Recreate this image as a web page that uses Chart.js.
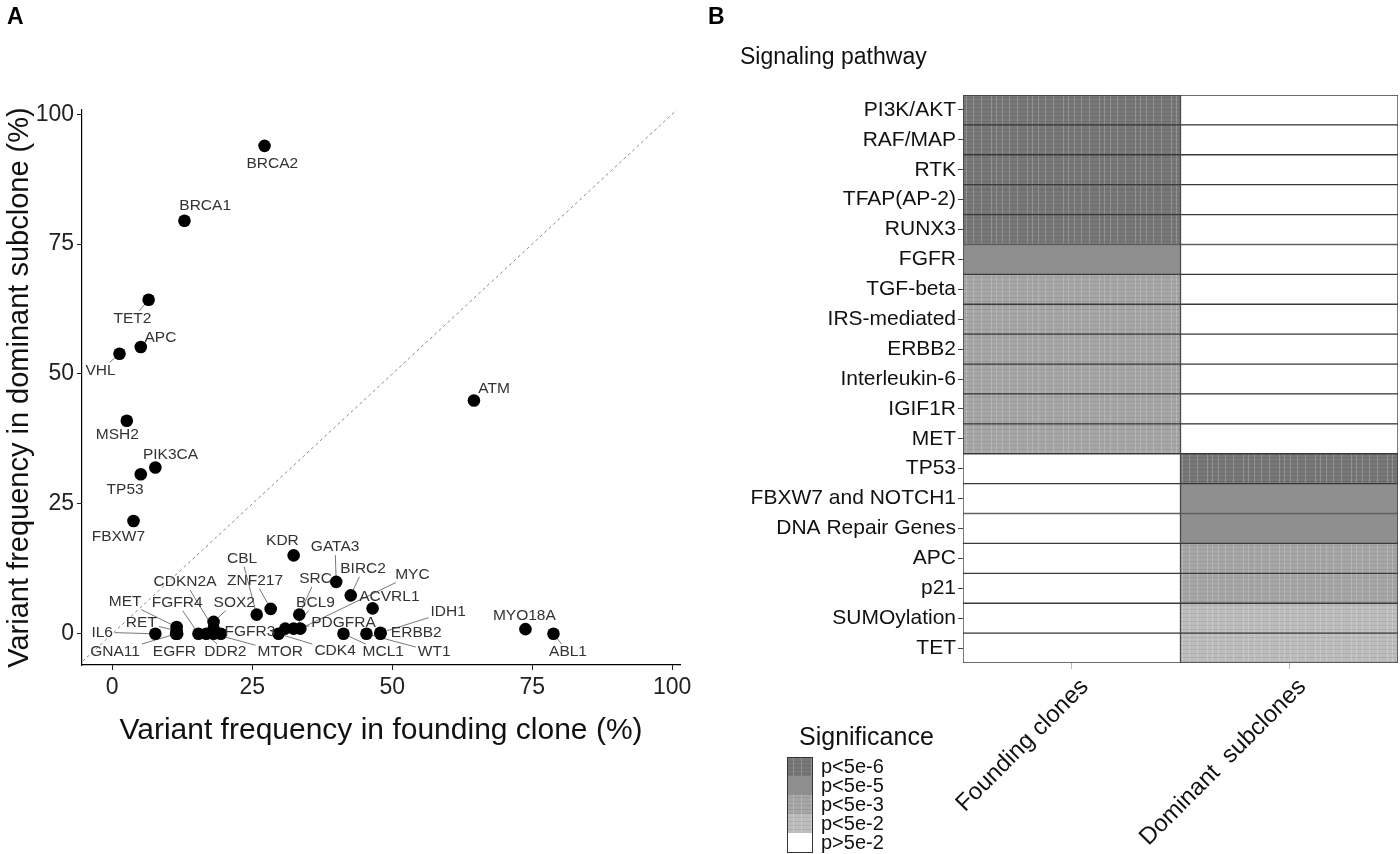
<!DOCTYPE html>
<html>
<head>
<meta charset="utf-8">
<script src="https://cdn.jsdelivr.net/npm/chart.js@4.4.1/dist/chart.umd.min.js"></script>
<style>
  body { margin: 0; background: #fff; width: 1400px; height: 854px; overflow: hidden; position: relative; }
  .panel { position: absolute; top: 0; width: 700px; height: 854px; }
  #panelA { left: 0; }
  #panelB { left: 700px; }
</style>
</head>
<body>
<div class="panel" id="panelA"><canvas id="chartA" width="700" height="854"></canvas></div>
<div class="panel" id="panelB"><canvas id="chartB" width="700" height="854"></canvas></div>
<script>
// --- DATA: panel A (variant frequencies, %) ---
const genes = ['BRCA2', 'BRCA1', 'TET2', 'APC', 'VHL', 'MSH2', 'PIK3CA', 'TP53', 'FBXW7', 'ATM',
  'KDR', 'GATA3', 'CBL', 'ZNF217', 'SRC', 'BIRC2', 'MYC', 'CDKN2A', 'SOX2', 'BCL9',
  'ACVRL1', 'MET', 'FGFR4', 'RET', 'IDH1', 'PDGFRA', 'MYO18A', 'IL6', 'FGFR3', 'ERBB2',
  'GNA11', 'EGFR', 'DDR2', 'MTOR', 'CDK4', 'MCL1', 'WT1', 'ABL1'];
const foundingFreq = [27.2, 12.9, 6.5, 5.1, 1.3, 2.6, 7.7, 5.1, 3.8, 64.6,
  32.4, 40.0, 25.8, 28.3, 33.4, 42.6, 33.6, 18.1, 18.1, 32.4,
  46.5, 11.5, 15.4, 11.5, 47.9, 30.9, 73.8, 7.7, 19.4, 47.9,
  11.4, 11.6, 16.8, 18.1, 29.7, 41.3, 45.4, 78.8];
const dominantFreq = [93.9, 79.5, 64.3, 55.2, 53.9, 41.0, 32.0, 30.7, 21.7, 44.9,
  15.1, 10.0, 3.7, 4.8, 3.7, 7.4, 1.0, 1.0, 2.3, 1.0,
  4.9, 1.3, 0, 0.6, 0.2, 1.0, 0.9, 0, 0, 0,
  0, 0, 0, 0, 0, 0, 0, 0];
const axisTicks = [0, 25, 50, 75, 100];

// --- DATA: panel B (pathway enrichment level per clone type) ---
const pathways = ['PI3K/AKT', 'RAF/MAP', 'RTK', 'TFAP(AP-2)', 'RUNX3', 'FGFR', 'TGF-beta',
  'IRS-mediated', 'ERBB2', 'Interleukin-6', 'IGIF1R', 'MET', 'TP53', 'FBXW7 and NOTCH1',
  'DNA Repair Genes', 'APC', 'p21', 'SUMOylation', 'TET'];
const cloneTypes = ['Founding clones', 'Dominant  subclones'];
const sigLevels = ['p<5e-6', 'p<5e-5', 'p<5e-3', 'p<5e-2', 'p>5e-2'];
// index into sigLevels
const foundingSig = [0, 0, 0, 0, 0, 1, 2, 2, 2, 2, 2, 2, 4, 4, 4, 4, 4, 4, 4];
const dominantSig = [4, 4, 4, 4, 4, 4, 4, 4, 4, 4, 4, 4, 0, 1, 1, 2, 2, 3, 3];

// --- LAYOUT / STYLE ---
// label anchors for the gene names (data units), placed like the repelled labels
const labelAt = {
  BRCA2: [28.6, 90.5], BRCA1: [16.6, 82.3], TET2: [3.6, 60.6], APC: [8.6, 57.0], VHL: [-2.1, 50.7],
  MSH2: [0.9, 38.3], PIK3CA: [10.4, 34.4], TP53: [2.3, 27.8], FBXW7: [1.1, 18.6], ATM: [68.2, 47.2],
  KDR: [30.4, 18.0], GATA3: [39.8, 16.7], CBL: [23.2, 14.4], ZNF217: [25.5, 10.2], SRC: [36.3, 10.6],
  BIRC2: [44.8, 12.5], MYC: [53.6, 11.4], CDKN2A: [13.0, 10.0], SOX2: [21.8, 6.0], BCL9: [36.3, 6.0],
  ACVRL1: [49.5, 7.2], MET: [2.3, 6.2], FGFR4: [11.6, 6.0], RET: [5.2, 2.2], IDH1: [60.0, 4.3],
  PDGFRA: [41.3, 2.2], MYO18A: [73.6, 3.5], IL6: [-1.8, 0.3], FGFR3: [24.6, 0.5], ERBB2: [54.3, 0.3],
  GNA11: [0.5, -3.5], EGFR: [11.1, -3.5], DDR2: [20.2, -3.5], MTOR: [30.0, -3.5], CDK4: [39.8, -3.3],
  MCL1: [48.4, -3.5], WT1: [57.5, -3.5], ABL1: [81.4, -3.5]
};
const LEVEL_COLORS = ['#777777', '#8f8f8f', '#a6a6a6', '#bdbdbd', '#ffffff'];
const FONT = "'Liberation Sans', Arial, sans-serif";
const SZ = { xTitle: 30, yTitle: 29, tick: 23, gene: 15.5, path: 21, pathTitle: 23, col: 24, legTitle: 25, leg: 20 };

// Helper: light scan-like texture on grey cells
function cellFill(level) {
  const base = LEVEL_COLORS[level];
  if (level === 4 || level === 1) return base;
  const c = document.createElement('canvas');
  c.width = 36; c.height = 8;
  const g = c.getContext('2d');
  g.fillStyle = base;
  g.fillRect(0, 0, 36, 8);
  g.fillStyle = 'rgba(255,255,255,0.22)';
  [3, 8, 14, 21, 29].forEach(x => g.fillRect(x, 0, 1, 8));
  g.fillStyle = 'rgba(0,0,0,0.08)';
  [1, 5].forEach(y => g.fillRect(0, y, 36, 1));
  return g.createPattern(c, 'repeat');
}

Chart.defaults.font.family = FONT;
Chart.defaults.color = '#111';

/* ---------------- Panel A: scatter ---------------- */
const geneLabels = {
  id: 'geneLabels',
  beforeDatasetsDraw(chart) {
    const { ctx, scales: { x, y } } = chart;
    ctx.save();
    ctx.font = SZ.gene + 'px ' + FONT;
    ctx.strokeStyle = '#555';
    ctx.lineWidth = 0.8;
    genes.forEach((g, i) => {
      const px = x.getPixelForValue(foundingFreq[i]);
      const py = y.getPixelForValue(dominantFreq[i]);
      const lx = x.getPixelForValue(labelAt[g][0]);
      const ly = y.getPixelForValue(labelAt[g][1]);
      const hw = ctx.measureText(g).width / 2 + 2, hh = 8;
      const dx = px - lx, dy = py - ly;
      const s = Math.min(dx ? hw / Math.abs(dx) : Infinity, dy ? hh / Math.abs(dy) : Infinity);
      if (s >= 1) return;
      const ex = lx + s * dx, ey = ly + s * dy;
      if (Math.hypot(px - ex, py - ey) < 13) return;
      ctx.beginPath();
      ctx.moveTo(ex, ey);
      ctx.lineTo(px, py);
      ctx.stroke();
    });
    ctx.restore();
  },
  afterDatasetsDraw(chart) {
    const { ctx, scales: { x, y } } = chart;
    ctx.save();
    ctx.font = SZ.gene + 'px ' + FONT;
    ctx.fillStyle = '#333';
    ctx.textAlign = 'center';
    ctx.textBaseline = 'middle';
    genes.forEach(g => {
      ctx.fillText(g, x.getPixelForValue(labelAt[g][0]), y.getPixelForValue(labelAt[g][1]));
    });
    ctx.fillStyle = '#000';
    ctx.font = 'bold 23px ' + FONT;
    ctx.textAlign = 'left';
    ctx.fillText('A', 7, 18);
    ctx.restore();
  }
};

// bottom axis box: title centred near y=731
const xBoxBottom = Math.round(731 + SZ.xTitle * 0.6 + 3);

new Chart(document.getElementById('chartA'), {
  type: 'scatter',
  data: {
    datasets: [{
      data: genes.map((g, i) => ({ x: foundingFreq[i], y: dominantFreq[i] })),
      backgroundColor: '#000', borderWidth: 0, pointRadius: 6.3, pointHoverRadius: 6.3
    }, {
      data: [{ x: -10, y: -10 }, { x: 110, y: 110 }],
      showLine: true, borderColor: '#8a8a8a', borderWidth: 1, borderDash: [3, 3], pointRadius: 0
    }]
  },
  options: {
    responsive: false, animation: false,
    layout: { padding: { top: 110, right: 20, bottom: 854 - xBoxBottom, left: 0 } },
    plugins: { legend: { display: false }, tooltip: { enabled: false } },
    scales: {
      x: {
        type: 'linear', min: -5.4, max: 101.4,
        afterBuildTicks: s => { s.ticks = axisTicks.map(v => ({ value: v })); },
        afterFit: s => { s.height = xBoxBottom - 665; },
        grid: { drawOnChartArea: false, tickLength: 5, color: '#222' },
        border: { color: '#000', width: 1.2 },
        ticks: { font: { size: SZ.tick }, color: '#222', padding: 4 },
        title: { display: true, text: 'Variant frequency in founding clone (%)', font: { size: SZ.xTitle }, color: '#111', padding: { bottom: 3 } }
      },
      y: {
        type: 'linear', min: -6, max: 100.8,
        afterBuildTicks: s => { s.ticks = axisTicks.map(v => ({ value: v })); },
        afterFit: s => { s.width = 82; },
        grid: { drawOnChartArea: false, tickLength: 5, color: '#222' },
        border: { color: '#000', width: 1.2 },
        ticks: { font: { size: SZ.tick }, color: '#222', padding: 3 },
        title: { display: true, text: 'Variant frequency in dominant subclone (%)', font: { size: SZ.yTitle }, color: '#111', padding: { top: 3 } }
      }
    }
  },
  plugins: [geneLabels]
});

/* ---------------- Panel B: heatmap ---------------- */
const heatDecor = {
  id: 'heatDecor',
  afterDraw(chart) {
    const { ctx } = chart;
    ctx.save();
    ctx.fillStyle = '#000';
    ctx.textBaseline = 'middle';
    ctx.font = 'bold 23px ' + FONT;
    ctx.fillText('B', 8, 18);
    ctx.font = SZ.pathTitle + 'px ' + FONT;
    ctx.fillStyle = '#111';
    ctx.fillText('Signaling pathway', 40, 58);
    // legend
    ctx.font = SZ.legTitle + 'px ' + FONT;
    ctx.fillText('Significance', 99, 738);
    const bx = 87, by = 757, bw = 25, bh = 19;
    sigLevels.forEach((lab, i) => {
      ctx.fillStyle = cellFill(i);
      ctx.fillRect(bx, by + i * bh, bw, bh);
      ctx.fillStyle = '#111';
      ctx.font = SZ.leg + 'px ' + FONT;
      ctx.fillText(lab, 121, 767 + i * 19.2);
    });
    ctx.strokeStyle = '#333';
    ctx.lineWidth = 1;
    ctx.strokeRect(bx + 0.5, by + 0.5, bw, bh * sigLevels.length);
    ctx.restore();
  }
};

const colDatasets = [foundingSig, dominantSig].map((levels, c) => ({
  label: cloneTypes[c],
  data: pathways.map(() => [c, c + 1]),
  backgroundColor: levels.map(l => cellFill(l)),
  borderColor: '#3a3a3a', borderWidth: 1, borderSkipped: false,
  grouped: false, categoryPercentage: 1, barPercentage: 1
}));

new Chart(document.getElementById('chartB'), {
  type: 'bar',
  data: { labels: pathways, datasets: colDatasets },
  options: {
    indexAxis: 'y', responsive: false, animation: false,
    layout: { padding: { top: 95, right: 2, bottom: 0, left: 0 } },
    plugins: { legend: { display: false }, tooltip: { enabled: false } },
    scales: {
      x: {
        type: 'linear', min: 0, max: 2,
        afterBuildTicks: s => { s.ticks = [{ value: 0.5 }, { value: 1.5 }]; },
        afterFit: s => { s.height = 191; },
        grid: { drawOnChartArea: false, tickLength: 6, color: '#bbb' },
        border: { display: false },
        ticks: {
          autoSkip: false, minRotation: 45, maxRotation: 45, padding: 4, labelOffset: 13,
          font: { size: SZ.col }, color: '#111',
          callback: v => cloneTypes[Math.floor(v)]
        }
      },
      y: {
        afterFit: s => { s.width = 263; },
        grid: { drawOnChartArea: false, offset: false, tickLength: 5, color: '#444' },
        border: { display: false },
        ticks: { font: { size: SZ.path }, color: '#111', padding: 2, autoSkip: false }
      }
    }
  },
  plugins: [heatDecor]
});
</script>
</body>
</html>
